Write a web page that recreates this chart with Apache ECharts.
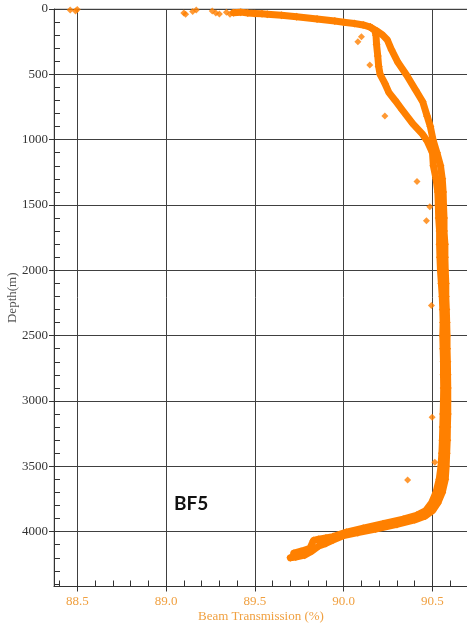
<!DOCTYPE html>
<html><head><meta charset="utf-8">
<script src="https://cdn.jsdelivr.net/npm/echarts@6/dist/echarts.min.js"></script>
<style>html,body{margin:0;padding:0;background:#fff}#c{width:467px;height:628px}</style>
</head><body><div id="c"></div>
<script>
// Tick values
const xMajorTicks = [88.5, 89.0, 89.5, 90.0, 90.5];
const xMinorTicks = [88.4, 88.5, 88.6, 88.7, 88.8, 88.9, 89.0, 89.1, 89.2, 89.3, 89.4, 89.5, 89.6, 89.7, 89.8, 89.9, 90.0, 90.1, 90.2, 90.3, 90.4, 90.5, 90.6, 90.7];
const yMajorTicks = [0, 500, 1000, 1500, 2000, 2500, 3000, 3500, 4000];
const yMinorTicks = [0, 100, 200, 300, 400, 500, 600, 700, 800, 900, 1000, 1100, 1200, 1300, 1400, 1500, 1600, 1700, 1800, 1900, 2000, 2100, 2200, 2300, 2400, 2500, 2600, 2700, 2800, 2900, 3000, 3100, 3200, 3300, 3400, 3500, 3600, 3700, 3800, 3900, 4000, 4100, 4200, 4300, 4400];

// [beam transmission %, depth m]
const traceUp = [[89.38, 28], [89.42, 24], [89.46, 30], [89.50, 34], [89.54, 37], [89.57, 40], [89.65, 48], [89.735, 59], [89.85, 76], [89.95, 92], [90.0, 101], [90.06, 111], [90.11, 122], [90.15, 138], [90.175, 165], [90.182, 200], [90.185, 270], [90.192, 360], [90.197, 440], [90.205, 500], [90.232, 570], [90.255, 640], [90.29, 700], [90.33, 773], [90.39, 880], [90.445, 960], [90.47, 1010], [90.50, 1100], [90.505, 1200], [90.52, 1300], [90.53, 1400], [90.533, 1500], [90.535, 1600], [90.54, 1700], [90.54, 1800], [90.542, 1900], [90.545, 2000], [90.55, 2100], [90.555, 2200], [90.558, 2300], [90.56, 2400], [90.558, 2500], [90.56, 2600], [90.562, 2700], [90.562, 2800], [90.563, 2900], [90.562, 3000], [90.56, 3100], [90.558, 3200], [90.556, 3300], [90.553, 3400], [90.548, 3500], [90.538, 3600], [90.52, 3700], [90.495, 3780], [90.462, 3840], [90.41, 3875], [90.335, 3905], [90.222, 3940], [90.11, 3974], [90.016, 4004], [89.94, 4038], [89.90, 4048], [89.86, 4058], [89.83, 4068], [89.81, 4128], [89.76, 4150], [89.72, 4165]];
const traceDown = [[90.15, 140], [90.19, 170], [90.22, 200], [90.245, 235], [90.27, 314], [90.306, 410], [90.354, 505], [90.405, 620], [90.445, 710], [90.47, 820], [90.488, 900], [90.503, 1000], [90.525, 1100], [90.545, 1200], [90.555, 1300], [90.56, 1400], [90.562, 1500], [90.565, 1600], [90.565, 1700], [90.57, 1800], [90.57, 1900], [90.572, 2000], [90.575, 2100], [90.575, 2200], [90.578, 2300], [90.58, 2400], [90.582, 2500], [90.582, 2600], [90.584, 2700], [90.585, 2800], [90.586, 2900], [90.586, 3000], [90.586, 3100], [90.584, 3200], [90.583, 3300], [90.58, 3400], [90.577, 3500], [90.572, 3600], [90.555, 3700], [90.53, 3780], [90.50, 3840], [90.46, 3880], [90.40, 3910], [90.30, 3945], [90.18, 3980], [90.08, 4008], [90.0, 4030], [89.94, 4065], [89.90, 4090], [89.86, 4110], [89.82, 4150], [89.78, 4180], [89.73, 4195], [89.70, 4200]];
const strayPoints = [[90.08, 250], [90.10, 212], [90.147, 429], [90.232, 819], [90.413, 1321], [90.485, 1513], [90.466, 1620], [90.494, 2270], [90.498, 3125], [90.513, 3469], [90.36, 3605],
  [88.46, 8], [88.49, 16], [88.50, 4], [89.10, 30], [89.11, 40], [89.15, 20], [89.17, 8], [89.26, 15], [89.28, 30], [89.30, 38], [89.34, 25], [89.36, 40]];

const ORANGE = '#FF8000';
const LABEL_ORANGE = '#F0A040';
const chart = echarts.init(document.getElementById('c'), null, {renderer: 'canvas'});
const lineSeries = (data) => ({
  type: 'line', data: data, xAxisIndex: 0, yAxisIndex: 0,
  symbol: 'diamond', symbolSize: 8, showSymbol: true,
  lineStyle: {width: 7, color: ORANGE, cap: 'round', join: 'round'},
  itemStyle: {color: ORANGE}, emphasis: {disabled: true}, z: 3
});
chart.setOption({
  animation: false,
  grid: {left: 54, top: 9, right: -1, bottom: 41.5, show: true, borderColor: '#a8a8a8', borderWidth: 1,
         containLabel: false, outerBoundsMode: 'none'},
  xAxis: [{
    type: 'value', min: 88.369, max: 90.7, position: 'bottom',
    axisLine: {onZero: false, lineStyle: {color: '#333', width: 1}},
    axisTick: {customValues: xMajorTicks, length: 5, lineStyle: {color: '#333'}},
    axisLabel: {customValues: xMajorTicks, formatter: v => v.toFixed(1), color: LABEL_ORANGE, fontFamily: 'Liberation Serif', fontSize: 13, margin: 9},
    splitLine: {show: true, lineStyle: {color: '#404040', width: 1}},
    name: 'Beam Transmission (%)', nameLocation: 'middle', nameGap: 24, nameMoveOverlap: false,
    nameTextStyle: {color: LABEL_ORANGE, fontFamily: 'Liberation Serif', fontSize: 13}
  }, {
    type: 'value', min: 88.369, max: 90.7, position: 'bottom',
    axisLine: {show: false, onZero: false},
    axisTick: {customValues: xMinorTicks, inside: true, length: 6, lineStyle: {color: '#333'}},
    axisLabel: {show: false}, splitLine: {show: false}
  }],
  yAxis: [{
    type: 'value', inverse: true, min: 0, max: 4420, position: 'left',
    axisLine: {onZero: false, lineStyle: {color: '#333', width: 1}},
    axisTick: {customValues: yMajorTicks, length: 5, lineStyle: {color: '#333'}},
    axisLabel: {customValues: yMajorTicks, formatter: v => String(v), color: '#333', fontFamily: 'Liberation Serif', fontSize: 13, margin: 6},
    splitLine: {show: true, lineStyle: {color: '#404040', width: 1}},
    name: 'Depth(m)', nameLocation: 'middle', nameGap: 35, nameRotate: 90, nameMoveOverlap: false,
    nameTextStyle: {color: '#555', fontFamily: 'Liberation Serif', fontSize: 13}
  }, {
    type: 'value', inverse: true, min: 0, max: 4420, position: 'left',
    axisLine: {show: false, onZero: false},
    axisTick: {customValues: yMinorTicks, inside: true, length: 6, lineStyle: {color: '#333'}},
    axisLabel: {show: false}, splitLine: {show: false}
  }],
  graphic: [{type: 'text', left: 174, top: 494, z: 10, style: {text: 'BF5', font: 'bold 19px Lato', fill: '#111'}}],
  series: [
    lineSeries(traceUp),
    lineSeries(traceDown),
    {type: 'scatter', data: strayPoints, xAxisIndex: 0, yAxisIndex: 0, symbol: 'diamond', symbolSize: 7,
     itemStyle: {color: ORANGE}, emphasis: {disabled: true}, z: 3}
  ]
});
</script></body></html>
